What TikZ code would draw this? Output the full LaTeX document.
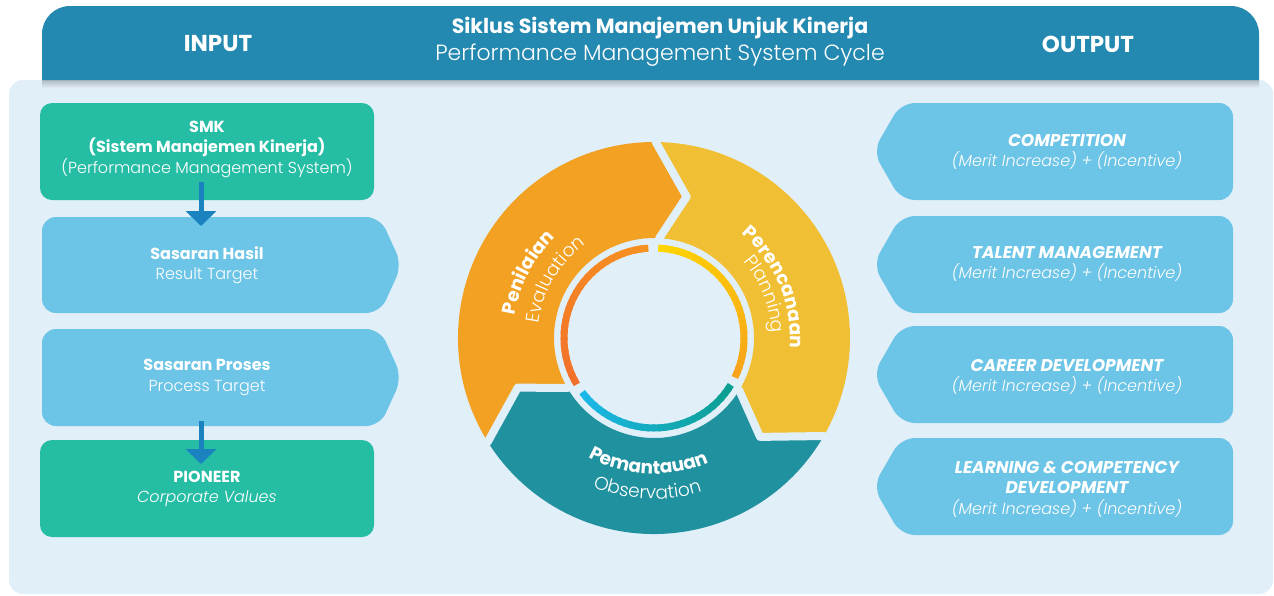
\documentclass[tikz,border=0pt]{standalone}
\usepackage{fontspec}
\setmainfont{Poppins}[UprightFont={* Light},ItalicFont={* Light Italic},BoldFont={* Bold},BoldItalicFont={* Bold Italic}]
\usetikzlibrary{arrows.meta,decorations.text}
\definecolor{hdr}{HTML}{2389B0}
\definecolor{panel}{HTML}{E1EFF9}
\definecolor{gbox}{HTML}{26BDA5}
\definecolor{lblue}{HTML}{6CC4E6}
\definecolor{arrc}{HTML}{1A82BE}
\definecolor{segO}{HTML}{F2A122}
\definecolor{segY}{HTML}{F1BF34}
\definecolor{segT}{HTML}{20919E}
\definecolor{rO1}{HTML}{F69220}
\definecolor{rO2}{HTML}{F2702A}
\definecolor{rY1}{HTML}{FFD600}
\definecolor{rY2}{HTML}{F7A21B}
\definecolor{rT1}{HTML}{1CB8EA}
\definecolor{rT2}{HTML}{0B9E8C}
\newcommand\myfs[2]{\fontsize{#1}{#2}\selectfont}
\newcommand\segB{\bfseries\fontsize{18.5}{18.5}\selectfont}
\newcommand\segL{\fontsize{18.5}{18.5}\selectfont}
\newcommand\gradarc[5]{%
  \foreach \k in {1,...,#5}{%
    \pgfmathsetmacro\aa{#1+(#2-#1)*(\k-1)/#5}%
    \pgfmathsetmacro\bb{#1+(#2-#1)*min(\k+0.4,#5)/#5}%
    \pgfmathtruncatemacro\pp{100*(\k-0.5)/#5}%
    \colorlet{gtmp}{#4!\pp!#3}%
    \draw[gtmp, line width=7pt] (\aa:90pt) arc[start angle=\aa, end angle=\bb, radius=90pt];
  }}
\begin{document}
\begin{tikzpicture}[x=1pt,y=-1pt,
  txt/.style={text=white, inner sep=0pt, align=center},
  greenbox/.style={fill=gbox, rounded corners=12pt, minimum width=334pt, minimum height=97pt, inner sep=0pt},
  arr/.style={draw=arrc, line width=5pt, -{Triangle[width=30pt,length=15pt]}},
  gap/.style={draw=panel, line width=8pt, line join=round},
  ltxt/.style={txt, font=\myfs{16}{20.5}},
  rtxt/.style={txt, font=\myfs{16}{20.5}\itshape}]
\useasboundingbox (0,0) rectangle (1274,595);
\fill[white] (0,0) rectangle (1274,595);
% panel
\fill[panel, rounded corners=14pt] (9,80) rectangle (1273,594);
\shade[top color=black!22!panel, bottom color=panel] (42,80) rectangle (1259,88);
% header
\fill[hdr] (42,80) [rounded corners=28pt] -- (42,6) -- (1259,6) [sharp corners] -- (1259,80) -- cycle;
\node[txt, font=\myfs{23}{23}\bfseries] (inp) at (218,44) {INPUT};
\node[txt, font=\myfs{23}{23}\bfseries] (outp) at (1088,44) {OUTPUT};
\node[txt, font=\myfs{20.5}{20.5}\bfseries] (t1) at (660,28.5) {Siklus Sistem Manajemen Unjuk Kinerja};
\node[txt, font=\myfs{22}{22}] (t2) at (660,55) {Performance Management System Cycle};

% left column
\node[greenbox] (smk) at (207,151.5) {};
\fill[lblue, rounded corners=14pt] (42,217) -- (380,217) -- (402,265) -- (380,313) -- (42,313) -- cycle;
\coordinate (hasil) at (207,265);
\fill[lblue, rounded corners=14pt] (42,329) -- (380,329) -- (402,377.5) -- (380,426) -- (42,426) -- cycle;
\coordinate (proses) at (207,377.5);
\node[greenbox] (pion) at (207,488.5) {};

\node[ltxt] (smkt) at (207,149) {{\bfseries SMK}\\{\bfseries (Sistem Manajemen Kinerja)}\\(Performance Management System)};
\node[ltxt] (hasilt) at (hasil) {{\bfseries Sasaran Hasil}\\Result Target};
\node[ltxt] (prosest) at (proses) {{\bfseries Sasaran Proses}\\Process Target};
\node[ltxt] (piont) at (207,489) {{\bfseries PIONEER}\\\textit{Corporate Values}};

\coordinate (a1s) at (201,182);
\coordinate (a1e) at (201,226);
\coordinate (a2s) at (201,421);
\coordinate (a2e) at (201,464);
\draw[arr] (a1s) -- (a1e);
\draw[arr] (a2s) -- (a2e);

% right column
\foreach \t/\b/\n in {103/200/o1, 216/313/o2, 326/423/o3, 438/535/o4}{
  \fill[lblue, rounded corners=14pt] (1233,\t) -- (901,\t) -- (873,{(\t+\b)/2}) -- (901,\b) -- (1233,\b) -- cycle;
  \coordinate (\n) at (1067,{(\t+\b)/2});
}
\node[rtxt] (o1t) at (1067,152) {{\myfs{17}{20.5}\bfseries COMPETITION}\\(Merit Increase) + (Incentive)};
\node[rtxt] (o2t) at (1067,264) {{\myfs{17}{20.5}\bfseries TALENT MANAGEMENT}\\(Merit Increase) + (Incentive)};
\node[rtxt] (o3t) at (1067,377) {{\myfs{17}{20.5}\bfseries CAREER DEVELOPMENT}\\(Merit Increase) + (Incentive)};
\node[rtxt] (o4t) at (1067,489) {{\myfs{17}{20.5}\bfseries LEARNING \& COMPETENCY}\\{\myfs{17}{20.5}\bfseries DEVELOPMENT}\\(Merit Increase) + (Incentive)};

% cycle
\begin{scope}[shift={(654,338)}, x=1pt, y=1pt]
\coordinate (cc) at (0,0);
\fill[segO] (89.5:196pt) -- (77:145pt) -- (87:100pt) arc[start angle=87, end angle=210, radius=100pt]
  -- (200:145pt) -- (212:196pt) arc[start angle=212, end angle=89.5, radius=196pt] -- cycle;
\fill[segY] (-30:196pt) -- (-43:145pt) -- (-31.5:100pt) arc[start angle=-31.5, end angle=87, radius=100pt]
  -- (77:145pt) -- (89.5:196pt) arc[start angle=89.5, end angle=-30, radius=196pt] -- cycle;
\fill[segT] (212:196pt) -- (200:145pt) -- (210:100pt) arc[start angle=210, end angle=328.5, radius=100pt]
  -- (317:145pt) -- (330:196pt) arc[start angle=330, end angle=212, radius=196pt] -- cycle;
\draw[gap] (89.5:206pt) -- (89.5:196pt) -- (77:145pt) -- (87:100pt) -- (87:97pt);
\draw[gap] (-30:206pt) -- (-30:196pt) -- (-43:145pt) -- (-31.5:100pt) -- (-31.5:97pt);
\draw[gap] (212:206pt) -- (212:196pt) -- (200:145pt) -- (210:100pt) -- (210:97pt);
% inner ring
\gradarc{93.6}{211}{rO1}{rO2}{30}
\gradarc{87.3}{-26}{rY1}{rY2}{30}
\gradarc{217}{328.6}{rT1}{rT2}{30}
% labels
\path[decorate, decoration={text along path, text align=center, text color=white, text={|\segB|Penilaian}}]
  (185:141pt) arc[start angle=185, end angle=120, radius=141pt];
\path[decorate, decoration={text along path, text align=center, text color=white, text={|\segL|Evaluation}}]
  (185:116pt) arc[start angle=185, end angle=114, radius=116pt];
\path[decorate, decoration={text along path, text align=center, text color=white, text={|\segB|Perencanaan}}]
  (55:136pt) arc[start angle=55, end angle=-9.4, radius=136pt];
\path[decorate, decoration={text along path, text align=center, text color=white, text={|\segL|Planning}}]
  (55:118pt) arc[start angle=55, end angle=-12, radius=118pt];
\path[decorate, decoration={text along path, text align=center, text color=white, text={|\segB|Pemantauan}}]
  (237:136pt) arc[start angle=237, end angle=297.8, radius=136pt];
\path[decorate, decoration={text along path, text align=center, text color=white, text={|\segL|Observation}}]
  (240:161pt) arc[start angle=240, end angle=295, radius=161pt];
\end{scope}
\end{tikzpicture}
\end{document}
